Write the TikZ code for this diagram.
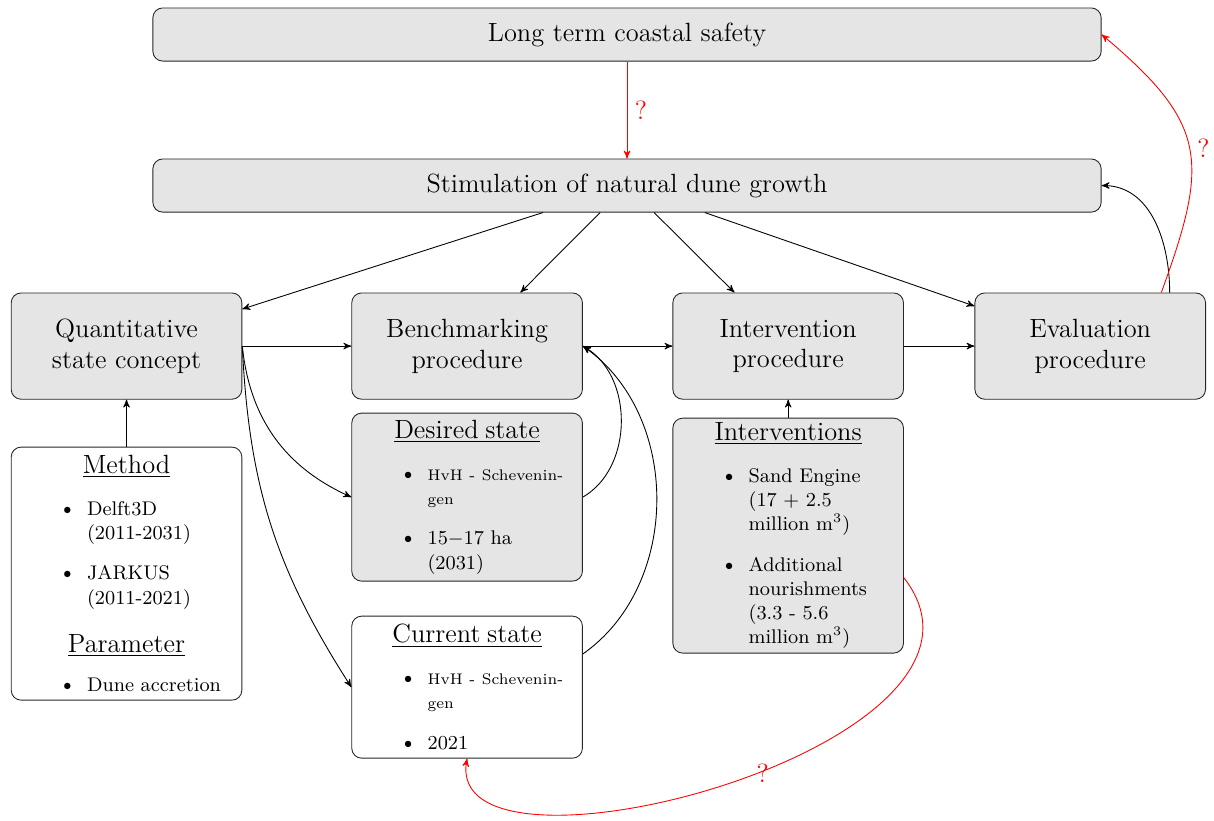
\documentclass[tikz,border=0pt]{standalone}
\usepackage{enumitem}
\usetikzlibrary{arrows}
\setlist[itemize]{label={\normalsize\textbullet},leftmargin=30.5pt,rightmargin=1.3pt,topsep=8pt,partopsep=0pt,itemsep=7.5pt,parsep=0pt}
\newcommand{\boxhead}[1]{{\centering\large\underline{#1}\par}}
\tikzstyle{bigbox}=[rectangle,rounded corners=4.5pt,draw=black!85,fill=black!10,align=center,font=\large,minimum width=3.69cm,minimum height=1.7cm]
\tikzstyle{wide}=[bigbox,minimum width=15.17cm,minimum height=0.85cm]
\tikzstyle{listbox}=[rectangle,rounded corners=4.5pt,draw=black!85,fill=white,font=\small,inner xsep=4pt,inner ysep=2pt,text width=3.408cm]
\tikzstyle{flow}=[->,>=stealth']
\tikzstyle{unsure}=[flow,red]

\begin{document}
\begin{tikzpicture}
	\useasboundingbox (0,0) rectangle (19.42,-13.12);
	% goals
	\node[wide] (safety) at (10.03,-0.552) {Long term coastal safety};
	\node[wide] (growth) at (10.03,-2.968) {Stimulation of natural dune growth};
	% procedures
	\node[bigbox] (concept) at (2.024,-5.536) {Quantitative\\state concept};
	\node[bigbox] (bench) at (7.472,-5.536) {Benchmarking\\procedure};
	\node[bigbox] (interv) at (12.608,-5.536) {Intervention\\procedure};
	\node[bigbox] (eval) at (17.44,-5.536) {Evaluation\\procedure};
	% details
	\node[listbox,minimum height=4.048cm] (method) at (2.024,-9.176) {
		\boxhead{Method}
		\begin{itemize}
			\item Delft3D (2011-2031)
			\item JARKUS (2011-2021)
		\end{itemize}
		\boxhead{Parameter}
		\begin{itemize}[topsep=7pt]
			\item Dune accretion
		\end{itemize}};
	\node[listbox,fill=black!10,minimum height=2.688cm] (desired) at (7.472,-7.952) {
		\boxhead{Desired state}
		\begin{itemize}
			\item {\scriptsize HvH - Schevenin-\linebreak gen}
			\item 15$-$17 ha (2031)
		\end{itemize}};
	\node[listbox,minimum height=2.272cm] (current) at (7.472,-10.992) {
		\boxhead{Current state}
		\begin{itemize}
			\item {\scriptsize HvH - Schevenin-\linebreak gen}
			\item 2021
		\end{itemize}};
	\node[listbox,fill=black!10,minimum height=3.696cm] (measures) at (12.608,-8.568) {
		\boxhead{Interventions}
		\begin{itemize}
			\item Sand Engine (17 + 2.5 million m$^3$)
			\item Additional nourishments (3.3 - 5.6 million m$^3$)
		\end{itemize}};
	% connections
	\draw[unsure] (safety) -- node[right,font=\large]{?} (growth);
	\foreach \t in {concept,bench,interv,eval}
	\draw[flow] (growth) -- (\t);
	\draw[flow] (concept) -- (bench);
	\draw[flow] (bench) -- (interv);
	\draw[flow] (interv) -- (eval);
	\draw[flow] (method) -- (concept);
	\draw[flow] (measures) -- (interv);
	\draw[flow] (concept.east) to[bend right] (desired.west);
	\draw[flow] (concept.east) to[bend right=15] (current.west);
	\draw[flow] (desired.east) to[out=30,in=-30] (bench.east);
	\draw[flow] (current.16) to[out=35,in=-35] (bench.east);
	\draw[flow] (eval.34) to[out=90,in=0] (growth.east);
	\draw[unsure] (eval.37) to[out=70,in=-40,looseness=1.35] node[right,font=\large]{?} (safety.east);
	\draw[unsure] (measures.-20) .. controls +(2.1,-2.7) and +(-0.43,-2.27) .. node[pos=0.45,below=-3.5pt,inner sep=0pt,font=\large]{?} (current.south);
\end{tikzpicture}
\end{document}
